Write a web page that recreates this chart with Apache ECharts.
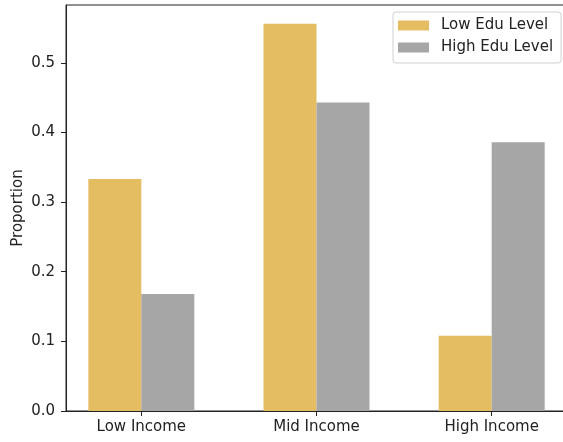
<!DOCTYPE html>
<html><head><meta charset="utf-8">
<script src="https://cdn.jsdelivr.net/npm/echarts@6/dist/echarts.min.js"></script>
<style>html,body{margin:0;padding:0;background:#fff}#c{width:563px;height:442px}</style>
</head><body><div id="c"></div>
<script>
const categories = ['Low Income', 'Mid Income', 'High Income'];
const lowEdu = [0.333, 0.556, 0.108];
const highEdu = [0.168, 0.443, 0.386];
const yTicks = [0, 0.1, 0.2, 0.3, 0.4, 0.5];
const seriesNames = ['Low Edu Level', 'High Edu Level'];

const font = 'DejaVu Sans';
const chart = echarts.init(document.getElementById('c'), null, {renderer: 'canvas'});
chart.setOption({
  animation: false,
  textStyle: {fontFamily: font},
  grid: {left: 66, top: 5, width: 501, height: 406, show: true, borderColor: '#222', borderWidth: 1,
    containLabel: false, outerBoundsMode: 'none'},
  legend: {
    orient: 'vertical', left: 393, top: 12,
    padding: [6, 8, 8, 5], itemGap: 7,
    itemWidth: 31, itemHeight: 10,
    borderColor: '#d0d0d0', borderWidth: 1, borderRadius: 3,
    textStyle: {fontFamily: font, fontSize: 15, color: '#222', padding: [0, 0, 0, 7]},
    icon: 'rect',
    data: seriesNames
  },
  xAxis: {
    type: 'value', min: -0.43, max: 2.43,
    splitLine: {show: false},
    axisLine: {show: true, onZero: false, lineStyle: {color: '#222'}},
    axisTick: {show: true, length: 5, lineStyle: {color: '#222'}, customValues: categories.map((c, i) => i)},
    axisLabel: {customValues: categories.map((c, i) => i), formatter: v => categories[Math.round(v)] || '',
      fontFamily: font, fontSize: 15, color: '#222', margin: 9}
  },
  yAxis: {
    type: 'value', min: 0, max: 0.583,
    name: 'Proportion', nameLocation: 'middle', nameGap: 40, nameMoveOverlap: false,
    nameTextStyle: {fontFamily: font, fontSize: 15, color: '#222'},
    splitLine: {show: false},
    axisLine: {show: true, onZero: false, lineStyle: {color: '#222'}},
    axisTick: {show: true, length: 5, lineStyle: {color: '#222'}, customValues: yTicks},
    axisLabel: {customValues: yTicks, formatter: v => v.toFixed(1),
      fontFamily: font, fontSize: 15, color: '#222', margin: 11}
  },
  series: [
    {name: seriesNames[0], type: 'bar', barWidth: 53, barGap: '0%',
     itemStyle: {color: '#e4bd62'}, data: lowEdu.map((v, i) => [i, v])},
    {name: seriesNames[1], type: 'bar', barWidth: 53, barGap: '0%',
     itemStyle: {color: '#a6a6a6'}, data: highEdu.map((v, i) => [i, v])}
  ]
});
</script></body></html>
